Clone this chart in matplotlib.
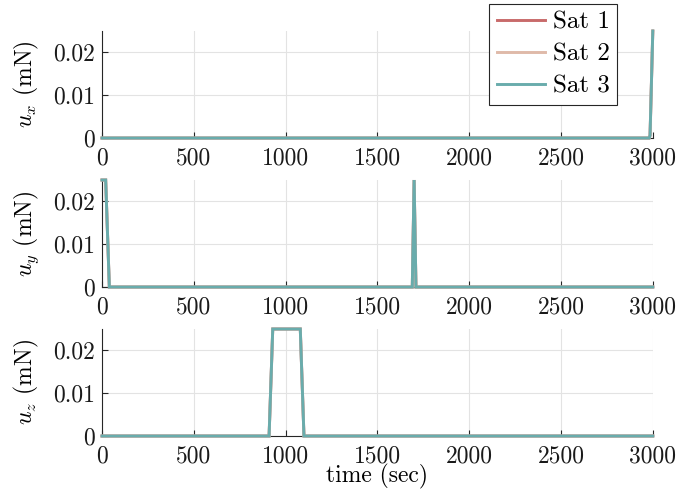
import matplotlib
matplotlib.use("Agg")
import matplotlib.pyplot as plt

# Thrust profile breakpoints (time in sec, thrust in mN)
t_x = [0, 2980, 2985, 3000]
u_x = [0.0, 0.0, 0.0006, 0.025]

t_y = [0, 20, 40, 1690, 1700, 1710, 3000]
u_y = [0.025, 0.025, 0.0, 0.0, 0.025, 0.0, 0.0]

t_z = [0, 910, 930, 1080, 1100, 3000]
u_z = [0.0, 0.0, 0.025, 0.025, 0.0, 0.0]

sat_names = ["Sat 1", "Sat 2", "Sat 3"]
sat_colors = ["#c86a6a", "#dfbaa9", "#69acac"]

xticks = [0, 500, 1000, 1500, 2000, 2500, 3000]
yticks = [0, 0.01, 0.02]
ytick_labels = ["0", "0.01", "0.02"]
ylabels = [r"$u_x$ (mN)", r"$u_y$ (mN)", r"$u_z$ (mN)"]

plt.rcParams.update({
    "font.family": "serif",
    "font.serif": ["cmr10"],
    "mathtext.fontset": "cm",
    "axes.formatter.use_mathtext": True,
    "font.size": 17,
})

fig = plt.figure(figsize=(6.8, 4.94), dpi=100)
left, width, height = 0.15, 0.81, 0.2166
bottoms = [0.7206, 0.419, 0.1174]

series = [(t_x, u_x), (t_y, u_y), (t_z, u_z)]
axes = []
for i, (tt, uu) in enumerate(series):
    ax = fig.add_axes([left, bottoms[i], width, height])
    for name, col in zip(sat_names, sat_colors):
        ax.plot(tt, uu, color=col, lw=2.1, label=name, clip_on=False,
                solid_joinstyle="miter", zorder=3)
    ax.set_xlim(0, 3000)
    ax.set_ylim(0, 0.025)
    ax.set_xticks(xticks)
    ax.set_xticklabels([str(v) for v in xticks])
    ax.set_yticks(yticks)
    ax.set_yticklabels(ytick_labels)
    ax.grid(True, color="#e3e3e3", lw=0.8)
    ax.set_axisbelow(True)
    for s in ("top", "right"):
        ax.spines[s].set_visible(False)
    for s in ("left", "bottom"):
        ax.spines[s].set_color("#262626")
        ax.spines[s].set_linewidth(0.8)
    ax.tick_params(direction="in", length=4, width=0.8, colors="#262626",
                   labelcolor="#1a1a1a")
    ax.tick_params(axis="x", pad=7)
    ax.tick_params(axis="y", pad=5)
    ax.set_ylabel(ylabels[i], labelpad=9)
    axes.append(ax)

axes[2].set_xlabel("time (sec)", labelpad=-3)

h, l = axes[0].get_legend_handles_labels()
leg = fig.legend(h, l, loc="upper right", bbox_to_anchor=(0.908, 0.992),
                 frameon=True, fancybox=False, framealpha=1,
                 edgecolor="#262626", handlelength=1.95, handletextpad=0.3,
                 borderpad=0.3, labelspacing=0.38, borderaxespad=0,
                 fontsize=18)
leg.get_frame().set_linewidth(0.8)

fig.savefig("out.png", dpi=100)
